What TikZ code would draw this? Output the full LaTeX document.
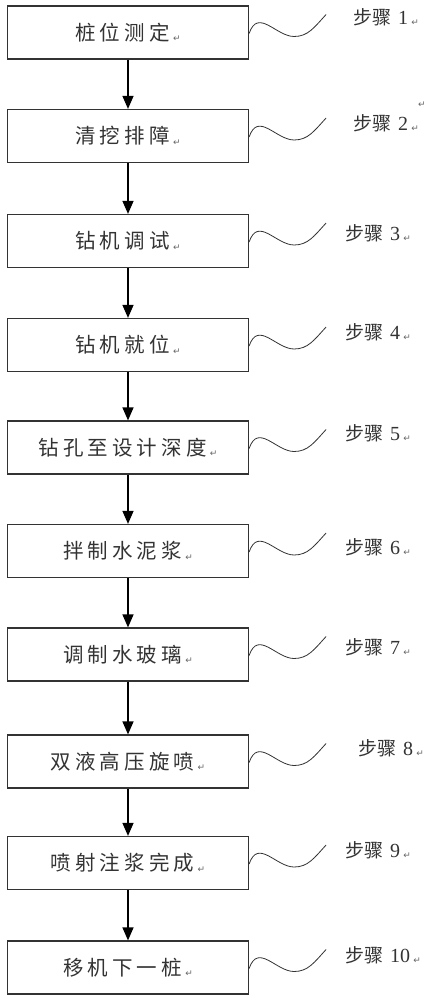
\documentclass[tikz,border=0pt]{standalone}
\usepackage{fontspec}
\setmainfont{Liberation Serif}
\newfontfamily\cjk[LetterSpace=20]{Noto Sans CJK SC}
\newfontfamily\cjklab{Noto Sans CJK SC}
\newfontfamily\symfont{DejaVu Sans}
\usetikzlibrary{arrows.meta,calc}

\definecolor{inkgray}{HTML}{333333}
\newcommand{\retmark}{\,{\symfont\fontsize{9}{9}\selectfont\color{black!60}\raisebox{-0.3ex}{↵}}}

\begin{document}
\begin{tikzpicture}[x=1pt,y=-1pt,
  stepbox/.style={draw=inkgray,line width=1.2pt,minimum width=241pt,minimum height=53pt,
    inner sep=0pt,font=\cjk\fontsize{20.5}{20.5}\selectfont,text=inkgray},
  steplab/.style={anchor=west,inner sep=0pt,font=\cjklab\fontsize{19}{19}\selectfont,text=inkgray},
  flow/.style={line width=1.3pt,draw=black,-{Triangle[width=11pt,length=13pt]}},
  wave/.style={line width=0.8pt,draw=inkgray}]

  \useasboundingbox (0,0) rectangle (435,1000);

  % boxes and step labels
  \foreach \n/\cy/\lx/\ly/\txt in {
      1/32.5/353/17/桩位测定,
      2/136/353/123/清挖排障,
      3/241/345/233/钻机调试,
      4/345/345/332/钻机就位,
      5/447.5/345/433/钻孔至设计深度,
      6/551/345/547/拌制水泥浆,
      7/654.5/345/647/调制水玻璃,
      8/761.5/358/748/双液高压旋喷,
      9/863/345/850/喷射注浆完成,
      10/967.5/345/955/移机下一桩}{
    \node[stepbox] (b\n) at (128,\cy) {\txt\retmark};
    \node[steplab] (l\n) at (\lx,\ly) {步骤\hspace{7pt}{\rmfamily\fontsize{20}{20}\selectfont\n}\retmark};
    \coordinate (w\n) at ($(b\n.east)+(77,-18)$);
    \draw[wave] ($(b\n.east)+(0,1)$) .. controls +(9,-26) and +(-18,0) .. ++(45,3)
      .. controls +(14,0) and +(-12,13) .. (w\n);
  }

  % stray paragraph mark
  \node[inner sep=0pt] (pm) at (421,105) {\retmark};

  % arrows
  \foreach \a/\b in {1/2,2/3,3/4,4/5,5/6,6/7,7/8,8/9,9/10}{
    \draw[flow] (b\a.south) -- (b\b.north);
  }

\end{tikzpicture}
\end{document}
